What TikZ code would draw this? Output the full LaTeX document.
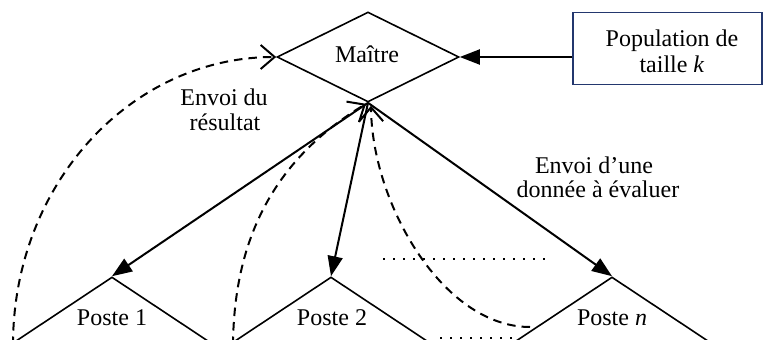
\documentclass[tikz,border=0pt]{standalone}
\usepackage{fontspec}
\setmainfont{Liberation Serif}
\usetikzlibrary{shapes.geometric,arrows.meta}
\definecolor{boxblue}{RGB}{35,55,110}
\tikzset{
  lbl/.style={anchor=base,inner sep=0pt,font=\fontsize{24}{26}\selectfont},
  shapeline/.style={draw=black,line width=1.6pt},
  sendarrow/.style={line width=2pt,-{Triangle[length=20pt,width=15pt]}},
  backarrow/.style={line width=2pt,dash pattern=on 8.5pt off 6pt,-{Straight Barb[length=14pt,width=24pt,line width=2pt]}},
  dotline/.style={line width=2pt,dash pattern=on 2pt off 8pt},
}
\begin{document}
\begin{tikzpicture}[x=1pt,y=-1pt]
\useasboundingbox (0,0) rectangle (763,340);
\clip (0,0) rectangle (763,340);
% master
\node[diamond,shapeline,minimum width=182pt,minimum height=90pt,inner sep=0pt] (master) at (368,57) {};
\node[lbl] (mtext) at (367,62) {Maître};
% population box
\node[draw=boxblue,line width=1.2pt,minimum width=189pt,minimum height=72pt,inner sep=0pt] (pop) at (667.5,48.5) {};
\node[lbl] (pop1) at (672,46) {Population de};
\node[lbl] (pop2) at (672,72) {taille \textit{k}};
% postes
\node[diamond,shapeline,minimum width=298pt,minimum height=198pt,inner sep=0pt] (p1) at (112,376) {};
\node[diamond,shapeline,minimum width=298pt,minimum height=198pt,inner sep=0pt] (p2) at (331,376) {};
\node[diamond,shapeline,minimum width=298pt,minimum height=198pt,inner sep=0pt] (pn) at (612,376) {};
\node[lbl] (t1) at (112,325) {Poste 1};
\node[lbl] (t2) at (332,325) {Poste 2};
\node[lbl] (tn) at (612,325) {Poste \textit{n}};
% labels
\node[lbl] (e1) at (224,105) {Envoi du};
\node[lbl] (e2) at (225,130) {résultat};
\node[lbl] (d1) at (594,173) {Envoi d’une};
\node[lbl] (d2) at (598,197) {donnée à évaluer};
% arrows
\draw[sendarrow] (pop.west |- master.east) -- (master.east);
\draw[sendarrow] (master.south) -- (p1.north);
\draw[sendarrow] (master.south) -- (p2.north);
\draw[sendarrow] (master.south) -- (pn.north);
% dashed return curves
\coordinate (s1) at (13,345);
\coordinate (s2) at (233,345);
\coordinate (sn) at (530,327);
\draw[backarrow] (s1) .. controls (13,184) and (131,57) .. (master.west);
\draw[backarrow] (s2) .. controls (234,220) and (290,150) .. ([xshift=-2pt,yshift=-1pt]master.south);
\draw[backarrow] (sn) .. controls (443,327) and (372,204) .. ([xshift=3pt,yshift=-3pt]master.south);
% dotted lines
\coordinate (da) at (383,259);
\coordinate (db) at (545,259);
\coordinate (dc) at (440,338);
\coordinate (dd) at (512,338);
\draw[dotline] (da) -- (db);
\draw[dotline] (dc) -- (dd);
\end{tikzpicture}
\end{document}
